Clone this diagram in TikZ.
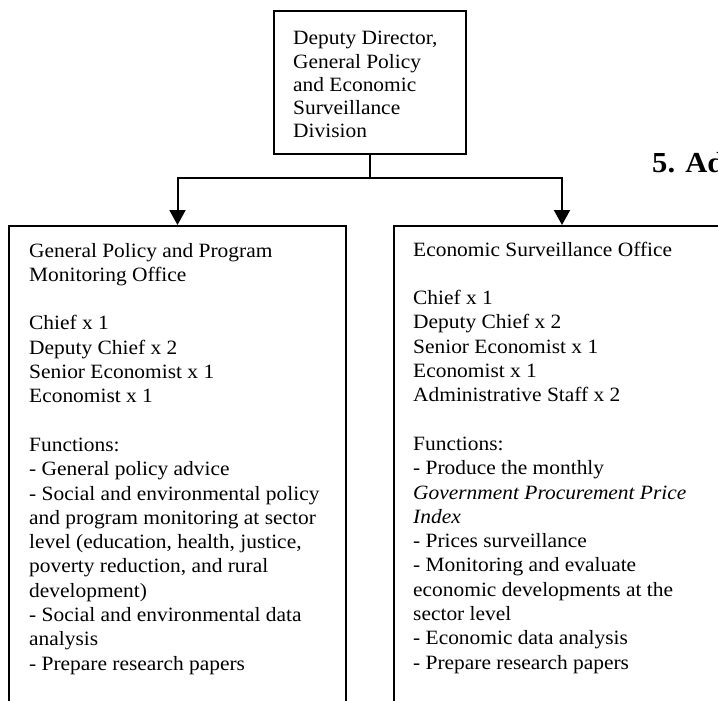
\documentclass[tikz,border=0pt]{standalone}
\usepackage{fontspec}
\setmainfont[FakeStretch=1.055]{Liberation Serif}
\usetikzlibrary{arrows.meta}
% a block of lines whose baseline is that of its first line
\newcommand\boxlines[2]{\parbox[t]{#1}{\raggedright #2}}
\begin{document}
\begin{tikzpicture}[x=1pt,y=-1pt,
  frame/.style={draw,line width=2pt,rectangle,inner sep=0pt,anchor=north west},
  body/.style={anchor=base west,inner sep=0pt,
    font=\fontsize{20.3}{24.3}\selectfont},
  link/.style={line width=2pt,line join=miter},
  tip/.style={-{Triangle[width=16pt,length=15pt]}}]
\useasboundingbox (0,0) rectangle (718,701);
\begin{scope}
\clip (0,0) rectangle (718,701);
% boxes
\node[frame,minimum width=192pt,minimum height=143pt] (dep) at (273,10) {};
\node[frame,minimum width=337pt,minimum height=520pt] (gpo) at (8,225) {};
\node[frame,minimum width=336pt,minimum height=520pt] (eso) at (393,225) {};
% junction of the connectors
\coordinate (bus) at (369,178);
\draw[link,tip] (dep.south) -- (dep.south |- bus) -- (gpo.north |- bus) -- (gpo.north);
\draw[link,tip] (dep.south |- bus) -- (eso.north |- bus) -- (eso.north);
% texts
\node[body,font=\fontsize{20.3}{23.1}\selectfont] (deptext) at (293,45)
  {\boxlines{170pt}{Deputy Director,\\General Policy\\and Economic\\Surveillance\\Division}};
\node[body] (gpotext) at (29,257)
  {\boxlines{315pt}{General Policy and Program\\Monitoring Office\\[24.3pt]
   Chief x 1\\Deputy Chief x 2\\Senior Economist x 1\\Economist x 1\\[24.3pt]
   Functions:\\- General policy advice\\- Social and environmental policy\\
   and program monitoring at sector\\level (education, health, justice,\\
   poverty reduction, and rural\\development)\\- Social and environmental data\\
   analysis\\- Prepare research papers}};
\node[body] (esotext) at (413,256)
  {\boxlines{300pt}{Economic Surveillance Office\\[24.3pt]
   Chief x 1\\Deputy Chief x 2\\Senior Economist x 1\\Economist x 1\\
   Administrative Staff x 2\\[24.3pt]
   Functions:\\- Produce the monthly\\\textit{Government Procurement Price}\\
   \textit{Index}\\- Prices surveillance\\- Monitoring and evaluate\\
   economic developments at the\\sector level\\- Economic data analysis\\
   - Prepare research papers}};
\node[anchor=base west,inner sep=0pt,font=\fontsize{29}{35}\selectfont\bfseries]
  (heading) at (652,172) {5. Ad};
\end{scope}
\end{tikzpicture}
\end{document}
